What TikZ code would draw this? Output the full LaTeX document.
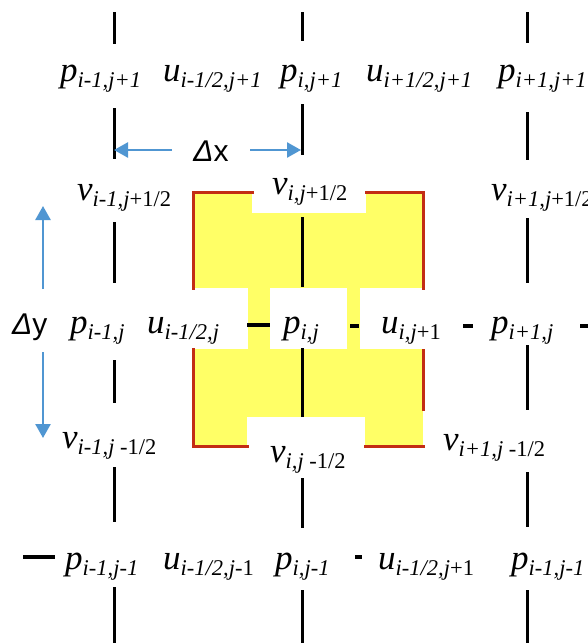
\documentclass[tikz,border=0pt]{standalone}
\usepackage{fontspec}
\setmainfont{Liberation Serif}
\newfontfamily\sansf{Liberation Sans}
\usetikzlibrary{arrows.meta}
\definecolor{cellyellow}{RGB}{255,255,102}
\definecolor{cellred}{RGB}{195,45,20}
\definecolor{arrowblue}{RGB}{80,150,210}
\newcommand\gl[2]{{\fontsize{35}{35}\selectfont\itshape #1}\raisebox{-6pt}{\fontsize{22.5}{22.5}\selectfont\itshape #2}}
\begin{document}
\begin{tikzpicture}[x=1pt,y=-1pt,
  lab/.style={inner sep=0pt, anchor=base west},
  gridline/.style={line width=3pt, black},
  dashseg/.style={line width=3.5pt, black},
  border/.style={line width=3pt, cellred, line cap=rect},
  blueline/.style={line width=2.5pt, arrowblue, -{Triangle[length=14pt,width=15pt]}},
  deltalab/.style={inner sep=0pt, font=\sansf\fontsize{30}{30}\selectfont}]
\useasboundingbox (0,0) rectangle (588,643);
% yellow cell
\fill[cellyellow] (193,192) rectangle (423,446);
\fill[white] (252,189) rectangle (366,213);
\fill[white] (190,288) rectangle (248,349);
\fill[white] (270,288) rectangle (347,349);
\fill[white] (360,288) rectangle (426,349);
\fill[white] (247,417) rectangle (365,449);
\draw[border] (252,192) -- (193,192) -- (193,288);
\draw[border] (193,349) -- (193,446) -- (247,446);
\draw[border] (366,192) -- (423,192) -- (423,288);
\draw[border] (423,350) -- (423,409);
\draw[border] (365,446) -- (423,446);
% grid lines
\foreach \ya/\yb in {12/44,108/159,222/283,360/403,467/522,587/643}
  \draw[gridline] (114,\ya) -- (114,\yb);
\foreach \ya/\yb in {12/41,104/155,217/287,348/417,478/528,590/643}
  \draw[gridline] (302,\ya) -- (302,\yb);
\foreach \ya/\yb in {12/43,112/160,218/283,345/410,472/527,590/643}
  \draw[gridline] (527,\ya) -- (527,\yb);
% short dashes
\draw[dashseg] (247,325) -- (270,325);
\draw[dashseg] (350,326) -- (359,326);
\draw[dashseg] (463,326) -- (473,326);
\draw[dashseg] (580,326) -- (590,326);
\draw[dashseg] (23,557) -- (55,557);
\draw[dashseg] (355,557) -- (362,557);
% delta arrows
\node[deltalab] (dx) at (211,151) {{\itshape Δ}x};
\node[deltalab, anchor=base west] (dy) at (12,334) {{\itshape Δ}y};
\coordinate (dxl) at (172,150); \coordinate (dxlt) at (114,150);
\coordinate (dxr) at (250,150); \coordinate (dxrt) at (301,150);
\coordinate (dyu) at (43,289); \coordinate (dyut) at (43,206);
\coordinate (dyd) at (43,352); \coordinate (dydt) at (43,438);
\draw[blueline] (dxl) -- (dxlt);
\draw[blueline] (dxr) -- (dxrt);
\draw[blueline] (dyu) -- (dyut);
\draw[blueline] (dyd) -- (dydt);
% top row
\node[lab] (pA) at (60,81) {\gl{p}{i-1,j+1}};
\node[lab] (uA) at (163,81) {\gl{u}{i-1/2,j+1}};
\node[lab] (pB) at (280,81) {\gl{p}{i,j+1}};
\node[lab] (uB) at (366,81) {\gl{u}{i+1/2,j+1}};
\node[lab] (pC) at (498,81) {\gl{p}{i+1,j+1}};
% upper v row
\node[lab] (vA) at (77,200) {\gl{v}{i-1,j\textup{+1/2}}};
\node[lab] (vB) at (272,194) {\gl{v}{i,j\textup{+1/2}}};
\node[lab] (vC) at (491,200) {\gl{v}{i+1,j\textup{+1/2}}};
% middle row
\node[lab] (pD) at (70,333) {\gl{p}{i-1,j}};
\node[lab] (uC) at (147,333) {\gl{u}{i-1/2,j}};
\node[lab] (pE) at (283,333) {\gl{p}{i,j}};
\node[lab] (uD) at (381,333) {\gl{u}{i,j\textup{+1}}};
\node[lab] (pF) at (491,333) {\gl{p}{i+1,j}};
% lower v row
\node[lab] (vD) at (62,448) {\gl{v}{i-1,j\textup{ -1/2}}};
\node[lab] (vE) at (270,462) {\gl{v}{i,j\textup{ -1/2}}};
\node[lab] (vF) at (443,450) {\gl{v}{i+1,j\textup{ -1/2}}};
% bottom row
\node[lab] (pG) at (65,569) {\gl{p}{i-1,j-1}};
\node[lab] (uE) at (163,569) {\gl{u}{i-1/2,j-\textup{1}}};
\node[lab] (pH) at (275,569) {\gl{p}{i,j-1}};
\node[lab] (uF) at (378,569) {\gl{u}{i-1/2,j\textup{+1}}};
\node[lab] (pI) at (511,569) {\gl{p}{i-1,j-1}};
\end{tikzpicture}
\end{document}
